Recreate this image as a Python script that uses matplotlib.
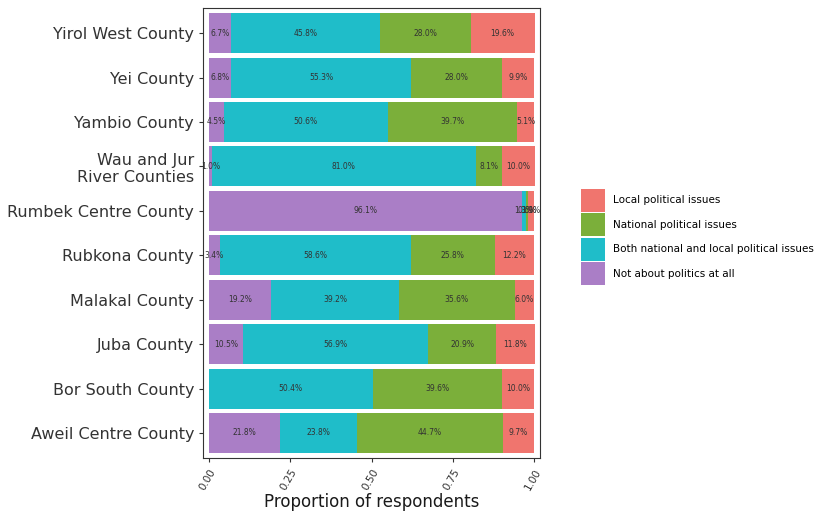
import matplotlib
matplotlib.use("Agg")
import matplotlib.pyplot as plt
from matplotlib.patches import Patch
import numpy as np

# Counties, bottom to top as drawn
counties = ["Aweil Centre County", "Bor South County", "Juba County", "Malakal County",
            "Rubkona County", "Rumbek Centre County", "Wau and Jur\nRiver Counties",
            "Yambio County", "Yei County", "Yirol West County"]

# Percent of respondents per category (same order as counties)
not_politics = [21.8, 0.0, 10.5, 19.2, 3.4, 96.1, 1.0, 4.5, 6.8, 6.7]
both_issues = [23.8, 50.4, 56.9, 39.2, 58.6, 1.3, 81.0, 50.6, 55.3, 45.8]
national_issues = [44.7, 39.6, 20.9, 35.6, 25.8, 0.6, 8.1, 39.7, 28.0, 28.0]
local_issues = [9.7, 10.0, 11.8, 6.0, 12.2, 1.9, 10.0, 5.1, 9.9, 19.6]

series = [
    ("Not about politics at all", not_politics, "#AA7EC6"),
    ("Both national and local political issues", both_issues, "#1FBDC9"),
    ("National political issues", national_issues, "#7BAF3A"),
    ("Local political issues", local_issues, "#F0756E"),
]

fig = plt.figure(figsize=(8.22, 5.15), dpi=100)
ax = fig.add_axes([0.247, 0.111, 0.410, 0.873])

y = np.arange(len(counties))
left = np.zeros(len(counties))
for name, vals, col in series:
    v = np.array(vals) / 100.0
    ax.barh(y, v, left=left, height=0.9, color=col, edgecolor="none")
    for yi, (l, w) in enumerate(zip(left, v)):
        if w > 0:
            ax.text(l + w / 2, yi, f"{w * 100:.1f}%", ha="center", va="center",
                    fontsize=5.5, color="#333333")
    left += v

ax.set_xlim(-0.018, 1.018)
ax.set_ylim(-0.56, 9.56)
ax.set_yticks(y)
ax.set_yticklabels(counties, fontsize=11.5, color="#4D4D4D")
ax.set_xticks([0, 0.25, 0.5, 0.75, 1.0])
ax.set_xticklabels(["0.00", "0.25", "0.50", "0.75", "1.00"], fontsize=7.5,
                   color="#4D4D4D", rotation=60, ha="right", va="top",
                   rotation_mode="anchor")
ax.tick_params(axis="both", colors="#333333", length=3)
ax.set_xlabel("Proportion of respondents", fontsize=12, color="#1A1A1A", labelpad=1)
for s in ax.spines.values():
    s.set_color("#333333")
    s.set_linewidth(0.8)

handles = [Patch(facecolor=c, edgecolor="none", label=n) for n, _, c in series[::-1]]
fig.legend(handles=handles, loc="center left", bbox_to_anchor=(0.695, 0.54),
           frameon=False, fontsize=7.5, handlelength=2.3, handleheight=3.0,
           labelspacing=0.15, handletextpad=0.8)

fig.savefig("out.png", dpi=100)
